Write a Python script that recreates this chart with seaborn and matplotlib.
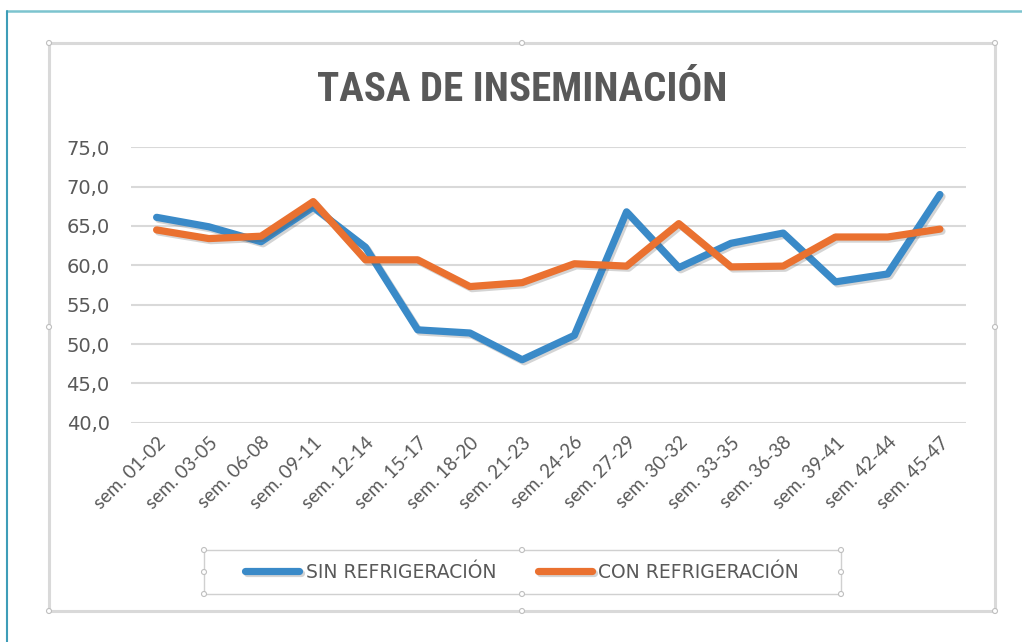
import numpy as np
import pandas as pd
import matplotlib
matplotlib.use("Agg")
import matplotlib.pyplot as plt
import matplotlib.patheffects as pe
from matplotlib.lines import Line2D
from matplotlib.patches import Rectangle, Ellipse
import seaborn as sns

# ---- data ----
categorias = ["sem. 01-02", "sem. 03-05", "sem. 06-08", "sem. 09-11", "sem. 12-14",
              "sem. 15-17", "sem. 18-20", "sem. 21-23", "sem. 24-26", "sem. 27-29",
              "sem. 30-32", "sem. 33-35", "sem. 36-38", "sem. 39-41", "sem. 42-44",
              "sem. 45-47"]
sin_refrigeracion = [66.1, 64.9, 63.0, 67.4, 62.3, 51.8, 51.4, 48.0, 51.1, 66.8,
                     59.7, 62.8, 64.1, 57.9, 58.9, 69.0]
con_refrigeracion = [64.5, 63.4, 63.7, 68.1, 60.7, 60.7, 57.3, 57.8, 60.2, 59.9,
                     65.3, 59.8, 59.9, 63.6, 63.6, 64.6]
series = ["SIN REFRIGERACIÓN", "CON REFRIGERACIÓN"]
y_ticks = [40, 45, 50, 55, 60, 65, 70, 75]
titulo = "TASA DE INSEMINACIÓN"

df = pd.DataFrame({
    "semana": categorias * 2,
    "valor": sin_refrigeracion + con_refrigeracion,
    "serie": [series[0]] * len(categorias) + [series[1]] * len(categorias),
})

sns.set_theme(style="white")
plt.rcParams["font.family"] = ["DejaVu Sans"]

W, H = 1022, 642
fig = plt.figure(figsize=(W / 100, H / 100), dpi=100)
fig.patch.set_facecolor("white")

def fx(x):
    return x / W

def fy(y):
    return 1 - y / H

ax = fig.add_axes([fx(130.5), fy(422.7), fx(966) - fx(130.5), fy(147.3) - fy(422.7)])
ax.set_facecolor("white")

palette = {series[0]: "#3A8AC8", series[1]: "#EA7130"}
sns.lineplot(data=df, x="semana", y="valor", hue="serie", palette=palette,
             sort=False, linewidth=5.2, ax=ax, legend=True)
for ln in ax.lines:
    ln.set_solid_capstyle("round")
    ln.set_solid_joinstyle("round")
    ln.set_path_effects([pe.SimpleLineShadow(offset=(1.5, -1.5), alpha=0.25, shadow_color="#555555"),
                         pe.Normal()])

ax.set_xlim(-0.5, len(categorias) - 0.5)
ax.set_ylim(40, 75)
ax.set_yticks(y_ticks)
ax.set_yticklabels([f"{v:.1f}".replace(".", ",") for v in y_ticks])
ax.set_xticks(range(len(categorias)))
ax.set_xticklabels(categorias, rotation=45, ha="right", rotation_mode="anchor",
                   family=["Lato", "DejaVu Sans"])
ax.grid(axis="y", color="#D9D9D9", linewidth=1.5)
ax.grid(axis="x", visible=False)
ax.set_axisbelow(True)
for s in ax.spines.values():
    s.set_visible(False)
ax.tick_params(axis="y", length=0, pad=15, labelsize=14, labelcolor="#595959")
ax.tick_params(axis="x", length=0, pad=8, labelsize=13.5, labelcolor="#595959")
ax.set_xlabel("")
ax.set_ylabel("")

handles, labels = ax.get_legend_handles_labels()
ax.get_legend().remove()
leg = fig.legend(handles, labels, loc="center", bbox_to_anchor=(fx(522), fy(572)),
                 ncol=2, frameon=False, fontsize=13.5, handlelength=2.9,
                 handletextpad=0.35, columnspacing=2.2)
for t in leg.get_texts():
    t.set_color("#595959")
for h in leg.legend_handles:
    h.set_linewidth(5.2)
    h.set_solid_capstyle("round")

# title
fig.text(fx(522), fy(90), titulo, ha="center", va="center", fontsize=29.5,
         fontweight="bold", fontstretch="condensed", color="#595959",
         family=["Roboto Condensed", "DejaVu Sans"])

# decorations: page frame and chart frame
fig.add_artist(Line2D([fx(7), 1], [fy(10.7), fy(10.7)], color="#7CC4CF", lw=1.8))
fig.add_artist(Line2D([fx(7), fx(7)], [0, fy(10.7)], color="#3E9DB8", lw=1.5))
fig.add_artist(Rectangle((fx(49), fy(611)), fx(995) - fx(49), fy(43) - fy(611),
                         fill=False, edgecolor="#D9D9D9", lw=2.2))
fig.add_artist(Rectangle((fx(204), fy(594)), fx(841) - fx(204), fy(550) - fy(594),
                         fill=False, edgecolor="#D0D0D0", lw=1.0))
for (px, py) in [(49, 43), (522, 43), (995, 43), (49, 327), (995, 327),
                 (49, 611), (522, 611), (995, 611),
                 (204, 550), (522, 550), (841, 550), (204, 572), (841, 572),
                 (204, 594), (522, 594), (841, 594)]:
    fig.add_artist(Ellipse((fx(px), fy(py)), 5 / W, 5 / H, facecolor="white",
                           edgecolor="#BFBFBF", lw=0.8))

fig.savefig("out.png", dpi=100, facecolor="white")
